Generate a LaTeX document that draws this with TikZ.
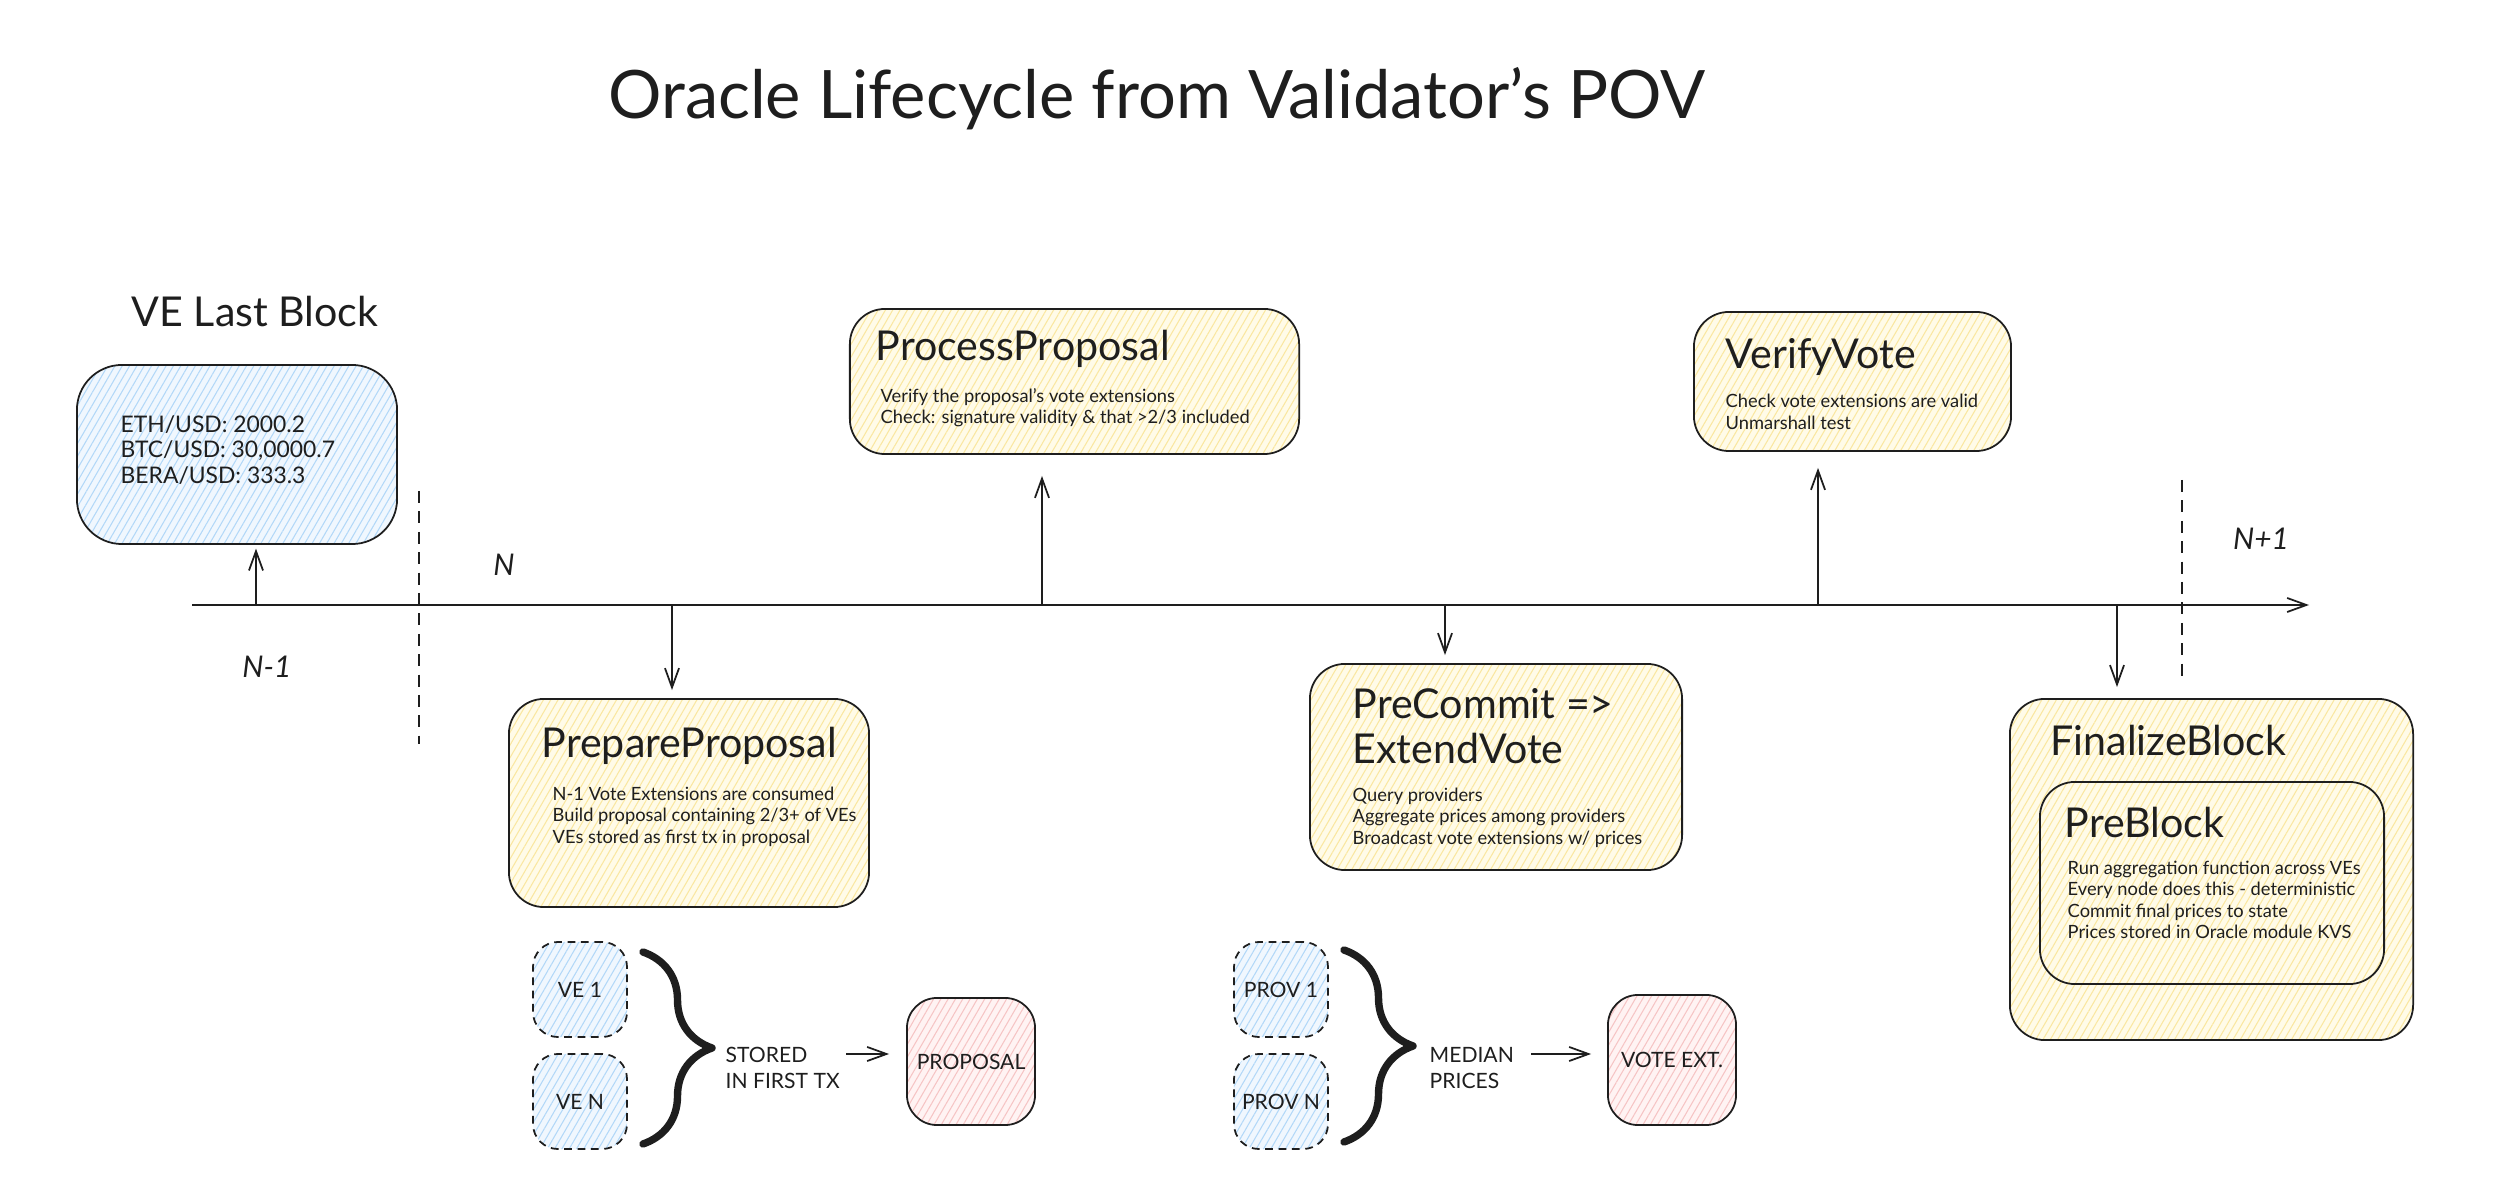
\documentclass[tikz,border=0pt]{standalone}
\usepackage{fontspec}
\setmainfont{Lato}
\usetikzlibrary{arrows.meta,patterns.meta,decorations.pathreplacing,calc}
\definecolor{ink}{HTML}{1E1E1E}
\definecolor{yelpale}{HTML}{FFFBE8}
\definecolor{yelhatch}{HTML}{FAE7A0}
\definecolor{bluepale}{HTML}{F0F7FE}
\definecolor{bluehatch}{HTML}{B2D8F8}
\definecolor{redpale}{HTML}{FFF3F3}
\definecolor{redhatch}{HTML}{F6C4C4}
\tikzset{
  box/.style={draw=ink, line width=0.5pt, rounded corners=0.35cm, inner sep=0pt},
  yelbox/.style={box, preaction={fill=yelpale}, pattern={Lines[angle=60,distance=1.8pt,line width=0.3pt]}, pattern color=yelhatch},
  bluebox/.style={box, preaction={fill=bluepale}, pattern={Lines[angle=60,distance=1.8pt,line width=0.3pt]}, pattern color=bluehatch},
  redbox/.style={box, preaction={fill=redpale}, pattern={Lines[angle=60,distance=1.8pt,line width=0.3pt]}, pattern color=redhatch},
  dashbox/.style={bluebox, dash pattern=on 2.2pt off 1.6pt, rounded corners=0.25cm},
  titletext/.style={font=\fontsize{19}{22}\selectfont, inner sep=0pt, text=ink},
  head/.style={font=\fontsize{11.7}{12.8}\selectfont, inner sep=0pt, anchor=west, align=left, text=ink},
  body/.style={font=\fontsize{5.2}{6.1}\selectfont, inner sep=0pt, anchor=west, align=left, text=ink},
  vetext/.style={font=\fontsize{6.5}{7.2}\selectfont, inner sep=0pt, anchor=west, align=left, text=ink},
  blocklbl/.style={font=\fontsize{8.5}{9}\selectfont\itshape, inner sep=0pt, text=ink},
  smalllbl/.style={font=\fontsize{6}{7.2}\selectfont, inner sep=0pt, align=left, text=ink},
  arr/.style={draw=ink, line width=0.5pt, -{Straight Barb[length=5.5pt,width=4pt]}},
  dashline/.style={draw=ink, line width=0.45pt, dash pattern=on 3.4pt off 2.4pt},
  bracestyle/.style={draw=ink, line width=2.1pt, line cap=round, line join=round, decorate, decoration={brace, amplitude=0.69cm, aspect=0.5}},
}
\begin{document}
\begin{tikzpicture}[x=0.01cm, y=-0.01cm]
\useasboundingbox (0,0) rectangle (2496,1198);

% title
\node[titletext] (title) at (1157,99) {Oracle Lifecycle from Validator's POV};

% VE last block
\node[head] (velastlbl) at (131,312) {VE Last Block};
\node[bluebox, rounded corners=0.45cm, minimum width=3.2cm, minimum height=1.79cm] (vebox) at (237,454.5) {};
\node[vetext] (velist) at (120,450) {ETH/USD: 2000.2\\BTC/USD: 30,0000.7\\BERA/USD: 333.3};

% block labels
\node[blocklbl] (nlbl) at (504,565) {N};
\node[blocklbl] (nm1lbl) at (267,667) {N-1};
\node[blocklbl] (np1lbl) at (2261,539) {N+1};

% dashed separators
\draw[dashline] (419,491) -- (419,744);
\draw[dashline] (2182,480) -- (2182,680);

% timeline
\coordinate (tl0) at (192,605);
\coordinate (tl1) at (2309,605);
\draw[arr] (tl0) -- (tl1);
\coordinate (ta) at (256,605);
\coordinate (tb) at (672,605);
\coordinate (tc) at (1042,605);
\coordinate (td) at (1445,605);
\coordinate (te) at (1818,605);
\coordinate (tf) at (2117,605);

% PrepareProposal
\node[yelbox, minimum width=3.6cm, minimum height=2.08cm] (pp) at (689,803) {};
\node[head] (pptitle) at (541,746) {PrepareProposal};
\node[body] (ppbody) at (552,816.5) {N-1 Vote Extensions are consumed\\Build proposal containing 2/3+ of VEs\\VEs stored as first tx in proposal};

% ProcessProposal
\node[yelbox, minimum width=4.49cm, minimum height=1.45cm] (proc) at (1074.5,381.5) {};
\node[head] (proctitle) at (875,349) {ProcessProposal};
\node[body] (procbody) at (880,407.5) {Verify the proposal's vote extensions\\Check: signature validity \& that >2/3 included};

% PreCommit
\node[yelbox, minimum width=3.72cm, minimum height=2.06cm] (pc) at (1496,767) {};
\node[head] (pctitle) at (1352,726.5) {PreCommit =>\\ExtendVote};
\node[body] (pcbody) at (1352,817.5) {Query providers\\Aggregate prices among providers\\Broadcast vote extensions w/ prices};

% VerifyVote
\node[yelbox, minimum width=3.17cm, minimum height=1.39cm] (vv) at (1852.5,381.5) {};
\node[head] (vvtitle) at (1725,357) {VerifyVote};
\node[body] (vvbody) at (1725,412) {Check vote extensions are valid\\Unmarshall test};

% FinalizeBlock
\node[yelbox, minimum width=4.03cm, minimum height=3.41cm] (fb) at (2211.5,869.5) {};
\node[head] (fbtitle) at (2050,741) {FinalizeBlock};
\node[yelbox, minimum width=3.44cm, minimum height=2.02cm] (pb) at (2212,883) {};
\node[head] (pbtitle) at (2064,822) {PreBlock};
\node[body] (pbbody) at (2067,900) {Run aggregation function across VEs\\Every node does this - deterministic\\Commit final prices to state\\Prices stored in Oracle module KVS};

% timeline connectors
\draw[arr, shorten >=0.04cm] (ta) -- (ta |- vebox.south);
\draw[arr, shorten >=0.08cm] (tb) -- (tb |- pp.north);
\draw[arr, shorten >=0.21cm] (tc) -- (tc |- proc.south);
\draw[arr, shorten >=0.08cm] (td) -- (td |- pc.north);
\draw[arr, shorten >=0.16cm] (te) -- (te |- vv.south);
\draw[arr, shorten >=0.11cm] (tf) -- (tf |- fb.north);

% VE group
\node[dashbox, minimum width=0.94cm, minimum height=0.95cm] (ve1) at (580,989.5) {};
\node[smalllbl] (ve1lbl) at (ve1.center) {VE 1};
\node[dashbox, minimum width=0.94cm, minimum height=0.95cm] (ven) at (580,1101.5) {};
\node[smalllbl] (venlbl) at (ven.center) {VE N};
\coordinate (br1a) at (643,952);
\coordinate (br1b) at (643,1144);
\draw[bracestyle] (br1a) -- (br1b);
\node[smalllbl, anchor=west] (stored) at (725,1068) {STORED\\IN FIRST TX};
\node[redbox, rounded corners=0.3cm, minimum width=1.28cm, minimum height=1.27cm] (prop) at (971,1061.5) {};
\node[smalllbl] (proplbl) at (prop.center) {PROPOSAL};
\draw[arr] ([xshift=0.06cm]stored.east |- 0,1054) -- ([xshift=-0.17cm]prop.west |- 0,1054);

% provider group
\node[dashbox, minimum width=0.94cm, minimum height=0.95cm] (prov1) at (1281,989.5) {};
\node[smalllbl] (prov1lbl) at (prov1.center) {PROV 1};
\node[dashbox, minimum width=0.94cm, minimum height=0.95cm] (provn) at (1281,1101.5) {};
\node[smalllbl] (provnlbl) at (provn.center) {PROV N};
\coordinate (br2a) at (1344,950);
\coordinate (br2b) at (1344,1142);
\draw[bracestyle] (br2a) -- (br2b);
\node[smalllbl, anchor=west] (median) at (1429,1068) {MEDIAN\\PRICES};
\node[redbox, rounded corners=0.3cm, minimum width=1.28cm, minimum height=1.30cm] (vext) at (1672,1060) {};
\node[smalllbl] (vextlbl) at (vext.center) {VOTE EXT.};
\draw[arr] (1531,1054) -- ([xshift=-0.16cm]vext.west |- 0,1054);
\end{tikzpicture}
\end{document}
